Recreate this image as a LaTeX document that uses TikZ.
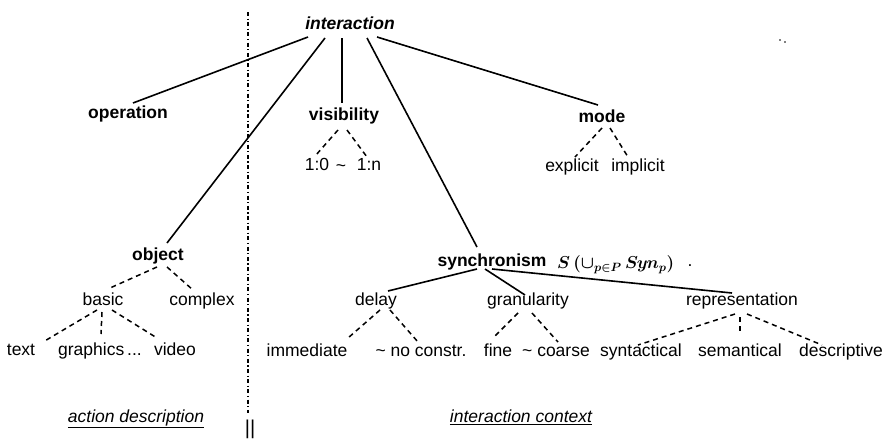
\documentclass[tikz,border=0pt]{standalone}
\usepackage{fontspec}
\setmainfont{Liberation Sans}
\begin{document}
\begin{tikzpicture}[x=1pt,y=-1pt,
  lbl/.style={font=\fontsize{17.5}{20}\selectfont, inner sep=1pt, text height=12.5pt, text depth=3.5pt},
  bnode/.style={lbl, font=\fontsize{17.5}{20}\selectfont\bfseries},
  solidedge/.style={line width=1.6pt},
  dashedge/.style={line width=1.5pt, dash pattern=on 5pt off 4pt},
  caption/.style={lbl, font=\fontsize{17.5}{20}\selectfont\itshape},
]
\useasboundingbox (0,0) rectangle (884,439);

% separator
\draw[line width=1.2pt, dash pattern=on 4pt off 2.5pt on 1.2pt off 2.5pt] (248,12) -- (248,413);
\node[inner sep=0pt, font=\fontsize{20}{22}\selectfont] (bars) at (250,429) {||};

% nodes
\node[bnode, font=\fontsize{17.5}{20}\selectfont\bfseries\itshape] (interaction) at (350,25) {interaction};
\node[bnode] (operation) at (128,114) {operation};
\node[bnode] (visibility) at (344,116) {visibility};
\node[bnode] (mode) at (602,118) {mode};
\node[bnode] (object) at (158,256) {object};
\node[bnode] (synch) at (492,262) {synchronism};
\node[lbl, anchor=west, inner sep=0pt, font=\fontsize{16.5}{20}\selectfont\boldmath] (formula) at (557,264) {$S\,(\cup_{p\in P}\,S\mkern-1mu y\mkern-1mu n_{p})$};
\node[lbl] (period) at (690,262) {.};

\node[lbl] (n10) at (317,166) {1:0};
\node[lbl] (tilde1) at (341,167) {\textasciitilde};
\node[lbl] (n1n) at (369,166) {1:n};

\node[lbl] (explicit) at (572,167) {explicit};
\node[lbl] (implicit) at (638,167) {implicit};

\node[lbl] (basic) at (103,301) {basic};
\node[lbl] (complex) at (202,301) {complex};
\node[lbl] (text) at (21,351) {text};
\node[lbl] (graphics) at (100,351) {graphics\,...};
\node[lbl] (video) at (175,351) {video};

\node[lbl] (delay) at (376,301) {delay};
\node[lbl] (granularity) at (528,301) {granularity};
\node[lbl] (representation) at (742,301) {representation};

\node[lbl] (immediate) at (307,352) {immediate};
\node[lbl] (noconstr) at (421,352) {\textasciitilde{} no constr.};
\node[lbl] (fine) at (498,352) {fine};
\node[lbl] (coarse) at (556,352) {\textasciitilde{} coarse};
\node[lbl] (syntactical) at (641,352) {syntactical};
\node[lbl] (semantical) at (740,352) {semantical};
\node[lbl] (descriptive) at (841,352) {descriptive};

\node[caption] (actiondesc) at (136,418) {\underline{action description}};
\node[caption] (intcontext) at (521,418) {\underline{interaction context}};

% stray dots
\fill (780,40) circle (0.8);
\fill (785,42) circle (0.8);

% solid edges from interaction
\draw[solidedge] ([shift={(-42,12)}]interaction.center) -- ([shift={(5,-11)}]operation.center);
\draw[solidedge] ([shift={(-25,13)}]interaction.center) -- ([shift={(9,-13)}]object.center);
\draw[solidedge] ([shift={(-8,13)}]interaction.center) -- ([shift={(-2,-13)}]visibility.center);
\draw[solidedge] ([shift={(17,13)}]interaction.center) -- ([shift={(-15,-15)}]synch.center);
\draw[solidedge] ([shift={(27,12)}]interaction.center) -- ([shift={(-4,-13)}]mode.center);

% solid edges from synchronism
\draw[solidedge] ([shift={(-15,7)}]synch.center) -- ([shift={(12,-10)}]delay.center);
\draw[solidedge] ([shift={(-7,7)}]synch.center) -- ([shift={(-3,-6)}]granularity.center);
\draw[solidedge] ([shift={(0,7)}]synch.center) -- ([shift={(-10,-8)}]representation.center);

% dashed edges
\draw[dashedge] ([shift={(-6,14)}]visibility.center) -- ([shift={(-1,-11)}]n10.center);
\draw[dashedge] ([shift={(3,14)}]visibility.center) -- ([shift={(-2,-9)}]n1n.center);

\draw[dashedge] ([shift={(0,10)}]mode.center) -- ([shift={(3,-10)}]explicit.center);
\draw[dashedge] ([shift={(8,10)}]mode.center) -- ([shift={(-10,-10)}]implicit.center);

\draw[dashedge] ([shift={(-1,11)}]object.center) -- ([shift={(7,-13)}]basic.center);
\draw[dashedge] ([shift={(9,11)}]object.center) -- ([shift={(-9,-11)}]complex.center);

\draw[dashedge] ([shift={(-6,9)}]basic.center) -- ([shift={(22,-9)}]text.center);
\draw[dashedge] ([shift={(-1,11)}]basic.center) -- ([shift={(1,-17)}]graphics.center);
\draw[dashedge] ([shift={(9,9)}]basic.center) -- ([shift={(-18,-13)}]video.center);

\draw[dashedge] ([shift={(4,9)}]delay.center) -- ([shift={(41,-14)}]immediate.center);
\draw[dashedge] ([shift={(14,9)}]delay.center) -- ([shift={(-3,-10)}]noconstr.center);

\draw[dashedge] ([shift={(-10,12)}]granularity.center) -- ([shift={(-5,-14)}]fine.center);
\draw[dashedge] ([shift={(4,12)}]granularity.center) -- ([shift={(2,-10)}]coarse.center);

\draw[dashedge] ([shift={(-7,13)}]representation.center) -- ([shift={(-3,-7)}]syntactical.center);
\draw[dashedge] ([shift={(-2,16)}]representation.center) -- ([shift={(0,-20)}]semantical.center);
\draw[dashedge] ([shift={(5,13)}]representation.center) -- ([shift={(-19,-7)}]descriptive.center);
\end{tikzpicture}
\end{document}
